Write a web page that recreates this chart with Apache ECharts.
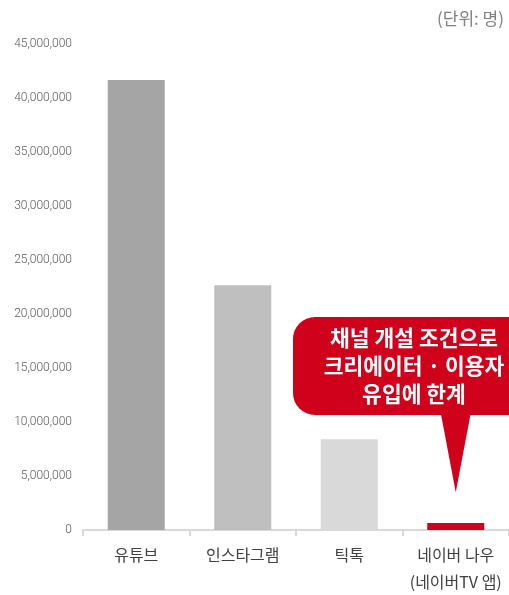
<!DOCTYPE html>
<html>
<head>
<meta charset="utf-8">
<script src="https://cdn.jsdelivr.net/npm/echarts@6/dist/echarts.min.js"></script>
<style>
html,body{margin:0;padding:0;background:#fff;}
#chart{width:509px;height:595px;}
</style>
</head>
<body>
<div id="chart"></div>
<script>
const categories = ['유튜브', '인스타그램', '틱톡', '네이버 나우\n(네이버TV 앱)'];
const values = [41700000, 22680000, 8410000, 640000];
const barColors = ['#a5a5a5', '#bfbfbf', '#d9d9d9', '#d0021b'];
const unitLabel = '(단위: 명)';
const calloutText = '채널 개설 조건으로\n크리에이터 · 이용자\n유입에 한계';
const calloutPointValue = 3500000;

const chart = echarts.init(document.getElementById('chart'), null, {renderer: 'canvas'});
const KR = '"Noto Sans CJK KR", "Noto Sans", sans-serif';

chart.setOption({
  animation: false,
  backgroundColor: '#ffffff',
  grid: {left: 83, right: -4.8, top: 44.3, bottom: 62, containLabel: false},
  xAxis: {
    type: 'category',
    data: categories,
    axisLine: {show: true, lineStyle: {color: '#d9d9d9', width: 2}},
    axisTick: {show: true, length: 6, lineStyle: {color: '#d9d9d9', width: 2}},
    axisLabel: {
      color: '#404040', fontSize: 16, fontFamily: KR, margin: 11,
      lineHeight: 27, interval: 0
    }
  },
  yAxis: {
    type: 'value',
    min: 0, max: 45000000, interval: 5000000,
    axisLine: {show: false},
    axisTick: {show: false},
    splitLine: {show: false},
    axisLabel: {
      color: '#595959', fontSize: 12, fontWeight: 300, fontFamily: 'Roboto, sans-serif', margin: 11,
      formatter: v => v.toLocaleString('en-US')
    }
  },
  series: [{
    type: 'bar',
    barWidth: 57,
    data: values.map((v, i) => ({value: v, itemStyle: {color: barColors[i]}})),
    silent: true
  }]
});

// callout anchored to the Naver bar
const tip = chart.convertToPixel({seriesIndex: 0}, [categories.length - 1, calloutPointValue]);
const boxLeft = 293, boxTop = 317, boxBottom = 415;
chart.setOption({
  graphic: [
    {
      type: 'text',
      right: 5, top: 10,
      style: {text: unitLabel, fill: '#7f7f7f', fontSize: 17, fontFamily: KR}
    },
    {
      type: 'rect',
      shape: {x: boxLeft, y: boxTop, width: 260, height: boxBottom - boxTop, r: 22},
      style: {fill: '#d0021b'}
    },
    {
      type: 'polygon',
      shape: {points: [[tip[0] - 15, boxBottom - 2], [tip[0] + 15, boxBottom - 2], [tip[0], tip[1]]]},
      style: {fill: '#d0021b'}
    },
    {
      type: 'text',
      style: {
        text: calloutText, x: 414, y: 366,
        align: 'center', verticalAlign: 'middle',
        textAlign: 'center', textVerticalAlign: 'middle',
        fill: '#ffffff', fontSize: 21.5, fontWeight: 'bold', fontFamily: KR, lineHeight: 28
      }
    }
  ]
});
</script>
</body>
</html>
